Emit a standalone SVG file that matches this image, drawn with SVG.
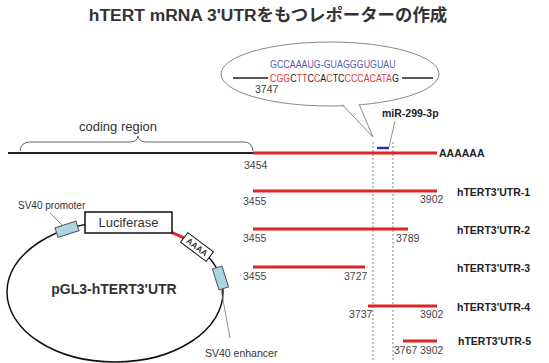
<svg xmlns="http://www.w3.org/2000/svg" width="549" height="363" viewBox="0 0 549 363">
<style>
  .t{font-family:"Liberation Sans",Arial,"Noto Sans CJK JP",sans-serif;fill:#333}
  .b{font-weight:bold}
  .num{font-family:"Liberation Sans",Arial,sans-serif;font-size:10.5px;fill:#444}
  .lab{font-family:"Liberation Sans",Arial,sans-serif;font-size:10.5px;font-weight:bold;fill:#222}
  .red{stroke:#e02424;stroke-width:3;fill:none}
  .seq{font-family:"Liberation Sans",Arial,sans-serif;font-size:10.5px}
  .r{fill:#e03a3a}
  .k{fill:#222}
  .bl{fill:#5a5ab0}
  .dot{stroke:#666;stroke-width:0.8;stroke-dasharray:2,2;fill:none}
  .lead{stroke:#777;stroke-width:0.8;fill:none}
  .blue{fill:#a9d7df;stroke:#555;stroke-width:1}
</style>

<g id="title">
  <text class="t b" x="268" y="21" font-size="17.4" text-anchor="middle">hTERT mRNA 3'UTRをもつレポーターの作成</text>
</g>

<g id="callout">
  <ellipse cx="330" cy="74" rx="109" ry="32" fill="#fff" stroke="#888" stroke-width="1"/>
  <polygon points="342,103 359,103 373,137" fill="#fff"/>
  <line x1="342" y1="104.5" x2="373" y2="137" stroke="#888" stroke-width="1"/>
  <line x1="359" y1="104" x2="373" y2="137" stroke="#888" stroke-width="1"/>
  <text class="seq bl" transform="translate(270,68) scale(0.845,1)" x="0" y="0">GCCAAAUG-GUAGGGUGUAU</text>
  <text class="seq" transform="translate(270,82) scale(0.845,1)" x="0" y="0"><tspan class="r">CGG</tspan><tspan class="k">C</tspan><tspan class="r">TT</tspan><tspan class="k">C</tspan><tspan class="r">C</tspan><tspan class="k">A</tspan><tspan class="r">C</tspan><tspan class="k">TC</tspan><tspan class="r">CCCACATA</tspan><tspan class="k">G</tspan></text>
  <line x1="233" y1="78" x2="268" y2="78" stroke="#222" stroke-width="1.5"/>
  <line x1="402" y1="78" x2="433" y2="78" stroke="#222" stroke-width="1.5"/>
  <text class="num" x="255" y="93">3747</text>
</g>

<g id="mrna">
  <line x1="8" y1="153" x2="253" y2="153" stroke="#222" stroke-width="2"/>
  <line x1="253" y1="153" x2="437" y2="153" class="red"/>
  <text class="lab" x="439" y="157">AAAAAA</text>
  <text class="num" x="244" y="169">3454</text>
</g>

<g id="coding-region">
  <path d="M20,151 Q21,142 30,142 L130,142 Q137,142 138,136 Q139,142 146,142 L244,142 Q252,142 253,151" fill="none" stroke="#666" stroke-width="1"/>
  <text class="t" x="118" y="131" font-size="13" text-anchor="middle">coding region</text>
</g>

<g id="mir">
  <line x1="377" y1="148" x2="389" y2="148" stroke="#3030a0" stroke-width="2.5"/>
  <text class="lab" x="382" y="117" font-size="9">miR-299-3p</text>
</g>

<g id="utr1">
  <line x1="253" y1="191" x2="437" y2="191" class="red"/>
  <text class="num" x="243" y="205">3455</text>
  <text class="num" x="420" y="203">3902</text>
  <text class="lab" x="457" y="196">hTERT3'UTR-1</text>
</g>
<g id="utr2">
  <line x1="253" y1="229" x2="408" y2="229" class="red"/>
  <text class="num" x="243" y="242">3455</text>
  <text class="num" x="396" y="242">3789</text>
  <text class="lab" x="457" y="234">hTERT3'UTR-2</text>
</g>
<g id="utr3">
  <line x1="253" y1="267" x2="365" y2="267" class="red"/>
  <text class="num" x="243" y="280">3455</text>
  <text class="num" x="344" y="280">3727</text>
  <text class="lab" x="457" y="272">hTERT3'UTR-3</text>
</g>
<g id="utr4">
  <line x1="368" y1="306" x2="437" y2="306" class="red"/>
  <text class="num" x="349" y="318">3737</text>
  <text class="num" x="420" y="318">3902</text>
  <text class="lab" x="457" y="311">hTERT3'UTR-4</text>
</g>
<g id="utr5">
  <line x1="403" y1="341" x2="437" y2="341" class="red"/>
  <text class="num" x="394" y="354">3767</text>
  <text class="num" x="420" y="354">3902</text>
  <text class="lab" x="458" y="345">hTERT3'UTR-5</text>
</g>

<g id="plasmid">
  <ellipse cx="115" cy="292" rx="108" ry="70" fill="none" stroke="#111" stroke-width="1.5"/>
  <path d="M172,232.6 A108,70 0 0 1 185,238.6" class="red"/>
  <text class="t b" x="114" y="294" font-size="14" text-anchor="middle" fill="#222">pGL3-hTERT3'UTR</text>
</g>

<g id="sv40-promoter">
  <rect x="-11" y="-5" width="22" height="10" class="blue" transform="translate(67,229.3) rotate(-18)"/>
  <text class="t" x="18" y="209" font-size="10">SV40 promoter</text>
</g>

<g id="luciferase">
  <rect x="85" y="212" width="87" height="21" fill="#fff" stroke="#111" stroke-width="1.5"/>
  <text class="t" x="128.5" y="227" font-size="13" text-anchor="middle">Luciferase</text>
</g>

<g id="polyA">
  <g transform="translate(197,247) rotate(37)">
    <rect x="-16" y="-6" width="32" height="12" fill="#fff" stroke="#111" stroke-width="1"/>
    <text class="t b" x="0" y="3" font-size="8.5" text-anchor="middle" fill="#111">AAAA</text>
  </g>
</g>

<g id="sv40-enhancer">
  <rect x="-11" y="-5" width="22" height="10" class="blue" transform="translate(220.5,278) rotate(72.5)"/>
  <text class="t" x="205" y="357" font-size="10.5">SV40 enhancer</text>
</g>

<g id="connectors">
  <line x1="373" y1="142" x2="373" y2="360" class="dot"/>
  <line x1="393" y1="142" x2="393" y2="360" class="dot"/>
  <line x1="395" y1="121" x2="389" y2="147" class="lead"/>
  <line x1="50" y1="213" x2="62" y2="225" class="lead"/>
  <line x1="221" y1="289" x2="230" y2="338" class="lead"/>
</g>
</svg>
